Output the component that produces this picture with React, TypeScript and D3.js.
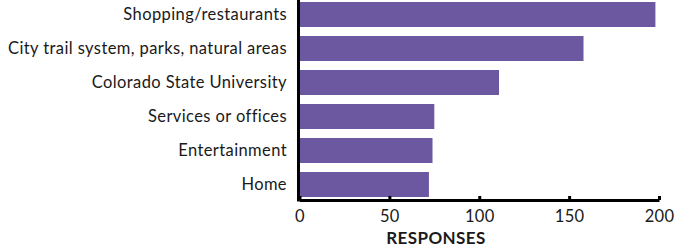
import * as d3 from "d3";
import { useEffect, useRef } from "react";

const categories = [
  "Shopping/restaurants",
  "City trail system, parks, natural areas",
  "Colorado State University",
  "Services or offices",
  "Entertainment",
  "Home",
];
const responses = [198, 158, 111, 75, 74, 72];
const xTicks = [0, 50, 100, 150, 200];
const xTitle = "RESPONSES";

const FONT = "'Century Gothic', Lato, 'Open Sans', sans-serif";

export default function App() {
  const ref = useRef<SVGSVGElement>(null);

  useEffect(() => {
    const width = 677,
      height = 252;
    const svg = d3.select(ref.current);
    svg.selectAll("*").remove();

    const x = d3.scaleLinear().domain([0, 200]).range([299.5, 659]);
    const y = d3
      .scaleBand()
      .domain(categories)
      .range([2, 197])
      .paddingInner(0.265)
      .paddingOuter(0);

    const axisY = 200;

    // bars
    svg
      .selectAll("rect.bar")
      .data(responses)
      .enter()
      .append("rect")
      .attr("class", "bar")
      .attr("x", x(0))
      .attr("y", (d, i) => y(categories[i])!)
      .attr("width", (d) => x(d) - x(0))
      .attr("height", y.bandwidth())
      .attr("fill", "#6c58a0");

    // category labels
    svg
      .selectAll("text.cat")
      .data(categories)
      .enter()
      .append("text")
      .attr("class", "cat")
      .attr("x", 287)
      .attr("y", (d) => y(d)! + y.bandwidth() / 2)
      .attr("dy", "0.35em")
      .attr("text-anchor", "end")
      .style("font-family", FONT)
      .style("font-size", "16.5px")
      .style("letter-spacing", "0.4px")
      .attr("fill", "#1a1a1a")
      .text((d) => d);

    // x axis
    const xAxis = svg
      .append("g")
      .attr("transform", "translate(0," + axisY + ")")
      .call(
        d3
          .axisBottom(x)
          .tickValues(xTicks)
          .tickSizeInner(-4)
          .tickSizeOuter(0)
          .tickPadding(10)
      );
    xAxis.select(".domain").attr("stroke", "#000").attr("stroke-width", 3);
    xAxis.selectAll(".tick line").attr("stroke", "#000").attr("stroke-width", 3);
    xAxis
      .selectAll(".tick text")
      .style("font-family", FONT)
      .style("font-size", "16.5px")
      .style("letter-spacing", "0.3px")
      .attr("fill", "#1a1a1a");

    // y axis line
    svg
      .append("line")
      .attr("x1", 298.5)
      .attr("x2", 298.5)
      .attr("y1", 0)
      .attr("y2", axisY + 1.5)
      .attr("stroke", "#000")
      .attr("stroke-width", 3);

    // axis title
    svg
      .append("text")
      .attr("x", 436)
      .attr("y", 244)
      .attr("text-anchor", "middle")
      .style("font-family", FONT)
      .style("font-size", "17px")
      .style("letter-spacing", "0.4px")
      .style("font-weight", "bold")
      .attr("fill", "#1a1a1a")
      .text(xTitle);

    svg.attr("width", width).attr("height", height);
  }, []);

  return (
    <svg
      ref={ref}
      width={677}
      height={252}
      style={{ position: "absolute", left: 0, top: 0, background: "#fff" }}
    />
  );
}
